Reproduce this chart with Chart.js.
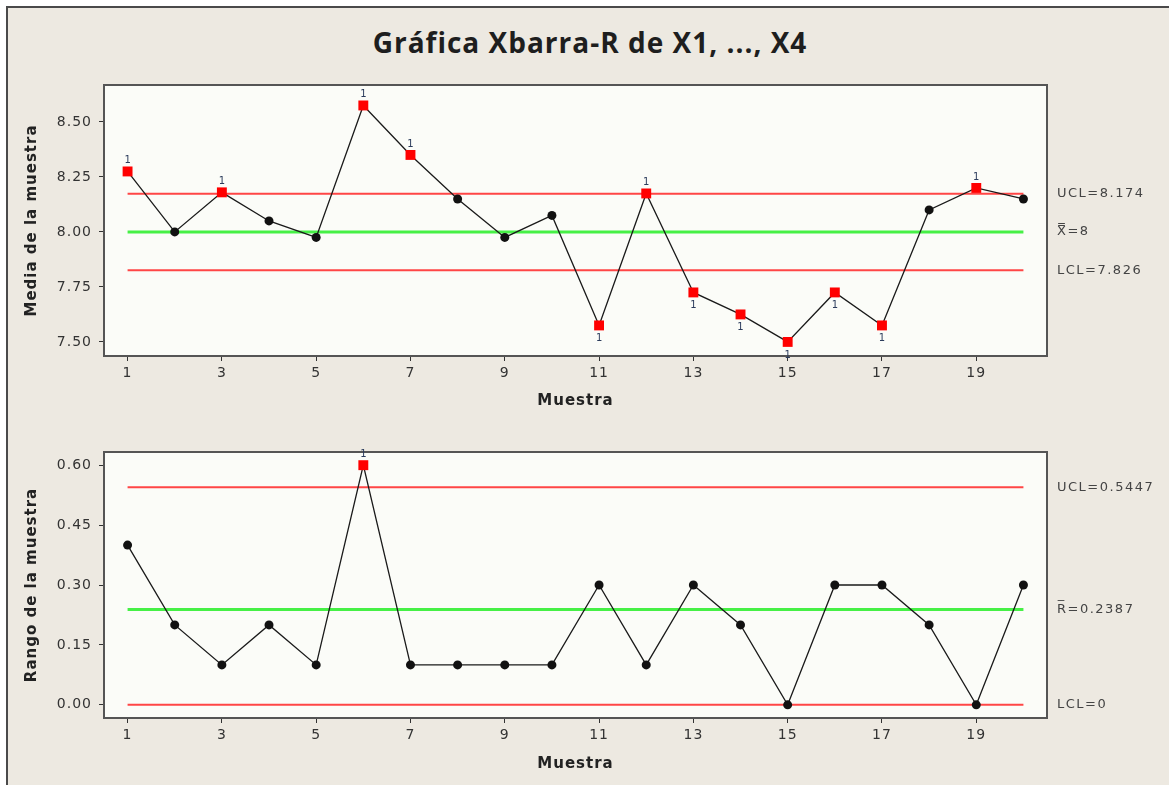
<!DOCTYPE html>
<html>
<head>
<meta charset="utf-8">
<script src="https://cdn.jsdelivr.net/npm/chart.js@4.4.1/dist/chart.umd.min.js"></script>
<style>
html, body { margin: 0; padding: 0; background: #fff; }
body { width: 1169px; height: 785px; position: relative; overflow: hidden; }
#frame { position: absolute; left: 6px; top: 6px; width: 1180px; height: 800px; border: 2px solid #4a4a4a; background: #ede9e1; box-sizing: border-box; }
#title { position: absolute; left: 0; top: 25px; width: 1180px; text-align: center; font: bold 28px "Open Sans"; letter-spacing: 1px; line-height: 34px; color: #1e1e1e; }
canvas { position: absolute; left: 0; }
#xbarChart { top: 0; }
#rangeChart { top: 420px; }
</style>
</head>
<body>
<div id="frame"></div>
<div id="title">Gráfica Xbarra-R de X1, ..., X4</div>
<canvas id="xbarChart" width="1169" height="420"></canvas>
<canvas id="rangeChart" width="1169" height="365"></canvas>
<script>
// data
const samples = [1, 2, 3, 4, 5, 6, 7, 8, 9, 10, 11, 12, 13, 14, 15, 16, 17, 18, 19, 20];
const xbarValues = [8.275, 8.0, 8.18, 8.05, 7.975, 8.575, 8.35, 8.15, 7.975, 8.075,
                    7.575, 8.175, 7.725, 7.625, 7.5, 7.725, 7.575, 8.1, 8.2, 8.15];
const rangeValues = [0.4, 0.2, 0.1, 0.2, 0.1, 0.6, 0.1, 0.1, 0.1, 0.1,
                     0.3, 0.1, 0.3, 0.2, 0.0, 0.3, 0.3, 0.2, 0.0, 0.3];
const xbarLimits = { ucl: 8.174, center: 8, lcl: 7.826 };
const rangeLimits = { ucl: 0.5447, center: 0.2387, lcl: 0 };
const xbarLimitLabels = ['UCL=8.174', 'X\u033F=8', 'LCL=7.826'];
const rangeLimitLabels = ['UCL=0.5447', 'R\u0305=0.2387', 'LCL=0'];
const xTickValues = [1, 3, 5, 7, 9, 11, 13, 15, 17, 19];
const xbarTicks = [7.5, 7.75, 8.0, 8.25, 8.5];
const rangeTicks = [0, 0.15, 0.3, 0.45, 0.6];

const FONT = '"DejaVu Sans"';

const framePlugin = {
    id: 'frame',
    beforeDraw(chart) {
        const { ctx, chartArea: a } = chart;
        ctx.letterSpacing = '1px';
        ctx.save();
        ctx.fillStyle = '#fbfcf8';
        ctx.fillRect(a.left, a.top, a.right - a.left, a.bottom - a.top);
        ctx.restore();
    },
    afterDraw(chart) {
        const { ctx, chartArea: a } = chart;
        const opts = chart.options.plugins.frame;
        const y = chart.scales.y;
        ctx.save();
        ctx.strokeStyle = '#555';
        ctx.lineWidth = 2;
        ctx.strokeRect(a.left, a.top, a.right - a.left, a.bottom - a.top);
        // limit labels on the right
        ctx.font = '13px ' + FONT;
        ctx.letterSpacing = '1.5px';
        ctx.fillStyle = '#444';
        ctx.textBaseline = 'middle';
        ctx.textAlign = 'left';
        const vals = [opts.limits.ucl, opts.limits.center, opts.limits.lcl];
        vals.forEach((v, i) => {
            ctx.fillText(opts.labels[i], a.right + 10, y.getPixelForValue(v));
        });
        // test 1 flags
        const meta = chart.getDatasetMeta(0);
        ctx.font = '10px ' + FONT;
        ctx.letterSpacing = '0px';
        ctx.fillStyle = '#2c3c5c';
        ctx.textAlign = 'center';
        opts.values.forEach((v, i) => {
            const p = meta.data[i];
            if (v > opts.limits.ucl) ctx.fillText('1', p.x, p.y - 11);
            else if (v < opts.limits.lcl) ctx.fillText('1', p.x, p.y + 13);
        });
        ctx.restore();
    }
};

function makeChart(id, values, limits, labels, yTicks, yMin, yMax, yTitle, box) {
    const flagged = values.map(v => v > limits.ucl || v < limits.lcl);
    const lineData = v => [{ x: samples[0], y: v }, { x: samples[samples.length - 1], y: v }];
    return new Chart(document.getElementById(id), {
        type: 'line',
        data: {
            datasets: [{
                data: samples.map((s, i) => ({ x: s, y: values[i] })),
                borderColor: '#1a1a1a',
                borderWidth: 1.3,
                pointStyle: flagged.map(f => f ? 'rect' : 'circle'),
                pointRadius: flagged.map(f => f ? 7 : 4.5),
                pointBackgroundColor: flagged.map(f => f ? '#ff0000' : '#111'),
                pointBorderWidth: 0,
                tension: 0
            }, {
                data: lineData(limits.ucl),
                borderColor: '#ff4646', borderWidth: 2, pointRadius: 0
            }, {
                data: lineData(limits.center),
                borderColor: '#46f046', borderWidth: 3, pointRadius: 0
            }, {
                data: lineData(limits.lcl),
                borderColor: '#ff4646', borderWidth: 2, pointRadius: 0
            }]
        },
        options: {
            responsive: false,
            animation: false,
            layout: { padding: { left: 0, right: 122, top: box.top, bottom: 0 } },
            plugins: {
                legend: { display: false },
                tooltip: { enabled: false },
                frame: { limits: limits, labels: labels, values: values }
            },
            scales: {
                x: {
                    type: 'linear',
                    min: 0.5,
                    max: 20.5,
                    afterBuildTicks: s => { s.ticks = xTickValues.map(v => ({ value: v })); },
                    afterFit: s => { s.height = box.xHeight; },
                    ticks: { font: { family: FONT, size: 14 }, color: '#333', padding: 4, maxRotation: 0, autoSkip: false },
                    grid: { drawOnChartArea: false, drawTicks: true, tickLength: 5, color: '#333' },
                    border: { display: false },
                    title: { display: true, text: 'Muestra', color: '#222', font: { family: FONT, size: 15, weight: 'bold' }, padding: { top: 0, bottom: box.titlePad } }
                },
                y: {
                    min: yMin,
                    max: yMax,
                    afterBuildTicks: s => { s.ticks = yTicks.map(v => ({ value: v })); },
                    afterFit: s => { s.width = 104; },
                    ticks: { font: { family: FONT, size: 14 }, color: '#333', padding: 7, callback: v => v.toFixed(2) },
                    grid: { drawOnChartArea: false, drawTicks: true, tickLength: 5, color: '#333' },
                    border: { display: false },
                    title: { display: true, text: yTitle, color: '#222', font: { family: FONT, size: 15, weight: 'bold' }, padding: { top: 23, bottom: 0 } }
                }
            }
        },
        plugins: [framePlugin]
    });
}

makeChart('xbarChart', xbarValues, xbarLimits, xbarLimitLabels, xbarTicks, 7.436, 8.668,
    'Media de la muestra', { top: 85, xHeight: 64, titlePad: 10 });
makeChart('rangeChart', rangeValues, rangeLimits, rangeLimitLabels, rangeTicks, -0.033, 0.633,
    'Rango de la muestra', { top: 32, xHeight: 67, titlePad: 12 });
</script>
</body>
</html>
